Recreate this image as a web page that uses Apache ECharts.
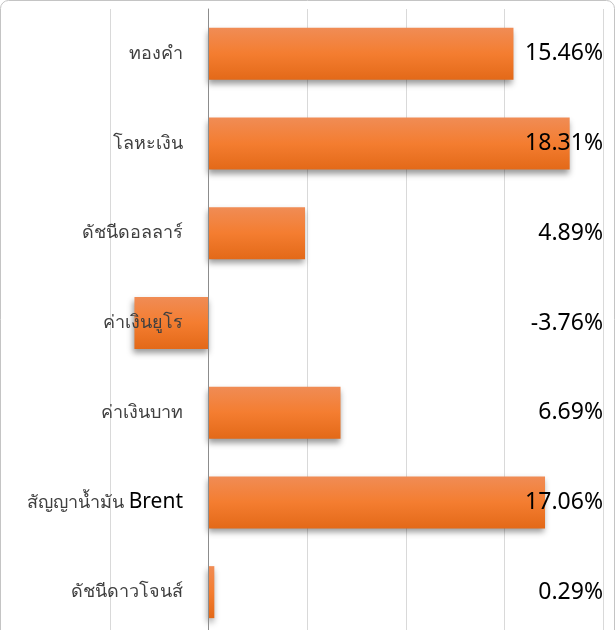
<!DOCTYPE html>
<html>
<head>
<meta charset="utf-8">
<script src="https://cdn.jsdelivr.net/npm/echarts@6/dist/echarts.min.js"></script>
<style>
  html, body { margin: 0; padding: 0; background: #fff; }
  #barChart { width: 616px; height: 630px; }
</style>
</head>
<body>
<div id="barChart"></div>
<script>
const categories = [
  'ทองคำ',
  'โลหะเงิน',
  'ดัชนีดอลลาร์',
  'ค่าเงินยูโร',
  'ค่าเงินบาท',
  'สัญญาน้ำมัน Brent',
  'ดัชนีดาวโจนส์'
]
const values = [15.46, 18.31, 4.89, -3.76, 6.69, 17.06, 0.29]
const valueLabels = values.map(v => v.toFixed(2) + '%')

const chartDom = document.getElementById('barChart')
const chartInstance = echarts.init(chartDom)
chartInstance.setOption({
  animation: false,
  graphic: [
    {
      type: 'rect',
      shape: { x: 0.5, y: 0.5, width: 614, height: 660, r: 8 },
      style: { fill: 'none', stroke: '#c4c4c4', lineWidth: 1 },
      z: 100
    }
  ],
  grid: {
    left: 110,
    right: 13,
    top: 9,
    bottom: -7,
    outerBoundsMode: 'none',
    containLabel: false
  },
  xAxis: {
    type: 'value',
    min: -5,
    max: 20,
    interval: 5,
    axisLabel: { show: false },
    axisLine: { show: false },
    axisTick: { show: false },
    splitLine: { lineStyle: { color: '#d9d9d9', width: 1 } }
  },
  yAxis: [
    {
      type: 'category',
      inverse: true,
      data: categories,
      z: 10,
      axisLine: { onZero: true, lineStyle: { color: '#8c8c8c', width: 1 } },
      axisTick: { show: false },
      axisLabel: {
        // labels stay at the grid edge, so pull them right to sit 26px before the zero line
        margin: -73,
        fontSize: 18,
        color: '#404040',
        fontFamily: 'Noto Sans, DejaVu Sans, sans-serif',
        formatter: v => v.replace(/([A-Za-z]+)/g, '{en|$1}'),
        rich: {
          en: { fontSize: 21, color: '#000', fontFamily: 'Noto Sans, sans-serif' }
        }
      }
    },
    {
      type: 'category',
      inverse: true,
      position: 'right',
      data: valueLabels,
      z: 10,
      axisLine: { show: false, onZero: false },
      axisTick: { show: false },
      axisLabel: {
        inside: true,
        margin: 0,
        fontSize: 23,
        padding: [6, 0, 0, 0],
        color: '#000',
        fontFamily: 'Noto Sans, DejaVu Sans, sans-serif'
      }
    }
  ],
  series: [
    {
      name: 'change',
      type: 'bar',
      yAxisIndex: 0,
      barWidth: 52,
      data: values,
      itemStyle: {
        color: new echarts.graphic.LinearGradient(0, 0, 0, 1, [
          { offset: 0, color: '#f08c55' },
          { offset: 0.5, color: '#f47d30' },
          { offset: 1, color: '#e36918' }
        ]),
        shadowColor: 'rgba(0,0,0,0.4)',
        shadowBlur: 6,
        shadowOffsetX: -1,
        shadowOffsetY: 4
      }
    }
  ]
})
</script>
</body>
</html>
